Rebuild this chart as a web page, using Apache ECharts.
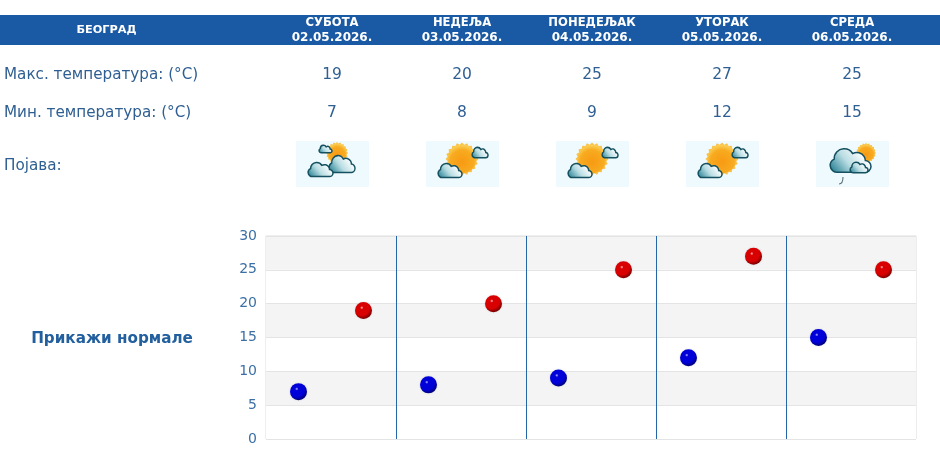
<!DOCTYPE html>
<html>
<head>
<meta charset="utf-8">
<title>Београд</title>
<script src="https://cdn.jsdelivr.net/npm/echarts@6/dist/echarts.min.js"></script>
<style>
  html, body { margin: 0; padding: 0; background: #fff; }
  #chart { width: 940px; height: 459px; }
</style>
</head>
<body>
<div id="chart"></div>
<script>
const city = 'БЕОГРАД';
const dayNames = ['СУБОТА', 'НЕДЕЉА', 'ПОНЕДЕЉАК', 'УТОРАК', 'СРЕДА'];
const dates = ['02.05.2026.', '03.05.2026.', '04.05.2026.', '05.05.2026.', '06.05.2026.'];
const maxTemps = [19, 20, 25, 27, 25];
const minTemps = [7, 8, 9, 12, 15];
const weather = ['cloudy', 'sunny', 'sunny', 'sunny', 'showers'];

const textBlue = '#2f5f92';
const headerBlue = '#1a59a3';
const colX = [332, 462, 592, 722, 852];

// облак за иконе, 58 x 36
echarts.graphic.registerShape('cloud', echarts.graphic.extendPath(
  'M11 35 A10 10 0 0 1 6 16 A14 14 0 0 1 32 8 A12 12 0 0 1 50 18 A8.5 8.5 0 0 1 49 35 Z'
));

function ball(light, mid, dark) {
  return {
    type: 'radial', x: 0.4, y: 0.34, r: 0.72,
    colorStops: [
      { offset: 0, color: light },
      { offset: 0.14, color: mid },
      { offset: 0.62, color: mid },
      { offset: 1, color: dark }
    ]
  };
}

function cloud(x, y, w, h, z) {
  return {
    type: 'cloud', x: x, y: y, scaleX: w / 58, scaleY: h / 36, z: z,
    style: {
      lineWidth: 1.5,
      strokeNoScale: true,
      stroke: '#14505f',
      fill: {
        type: 'linear', x: 0, y: 1, x2: 0.7, y2: 0.05,
        colorStops: [
          { offset: 0, color: '#0f7186' },
          { offset: 0.55, color: '#b9dde3' },
          { offset: 1, color: '#ffffff' }
        ]
      }
    }
  };
}

function sun(cx, cy, r, z) {
  const rays = [];
  for (let i = 0; i < 40; i++) {
    const a = i * Math.PI / 20;
    const rr = i % 2 ? r * 0.88 : r;
    rays.push([cx + rr * Math.cos(a), cy + rr * Math.sin(a)]);
  }
  return [
    {
      type: 'polygon', z: z,
      shape: { points: rays },
      style: { fill: '#f8c24a' }
    },
    {
      type: 'circle', z: z,
      shape: { cx: cx, cy: cy, r: r * 0.86 },
      style: {
        fill: {
          type: 'radial', x: 0.5, y: 0.6, r: 0.6,
          colorStops: [
            { offset: 0, color: '#f79a12' },
            { offset: 0.7, color: '#f8ab20' },
            { offset: 1, color: '#fbd25a' }
          ]
        }
      }
    }
  ];
}

function weatherIcon(kind, cx) {
  const x = cx - 36;
  const items = [{
    type: 'rect', z: 5,
    shape: { x: x, y: 141, width: 73, height: 46 },
    style: { fill: '#eefafd' }
  }];
  if (kind === 'cloudy') {
    items.push(...sun(x + 41, 153, 11, 6));
    items.push(cloud(x + 23, 145, 13, 8, 7));
    items.push(cloud(x + 33, 155, 26, 18, 8));
    items.push(cloud(x + 12, 162, 25, 15, 9));
  } else if (kind === 'sunny') {
    items.push(...sun(x + 36, 159, 16.5, 6));
    items.push(cloud(x + 46, 147, 16, 11, 7));
    items.push(cloud(x + 12, 163, 24, 15, 8));
  } else {
    items.push(...sun(x + 50, 153, 10, 6));
    items.push(cloud(x + 14, 148, 41, 25, 7));
    items.push(cloud(x + 34, 162, 18, 11, 8));
    items.push({
      type: 'bezierCurve', z: 7,
      shape: { x1: x + 27, y1: 177, cpx1: x + 27, cpy1: 181, cpx2: x + 26, cpy2: 184, x2: x + 23, y2: 184 },
      style: { stroke: '#5a7078', lineWidth: 1.1, fill: 'none' }
    });
  }
  return items;
}

function label(text, x, y, size, color, align, weight) {
  return {
    type: 'text', x: x, y: y, z: 10,
    style: {
      text: text, fill: color, align: align, verticalAlign: 'middle',
      font: (weight || 'normal') + ' ' + size + 'px "DejaVu Sans", sans-serif'
    }
  };
}

const tableItems = [
  { type: 'rect', z: 1, shape: { x: 0, y: 15, width: 940, height: 30 }, style: { fill: headerBlue } },
  label(city, 106.5, 30, 11.3, '#ffffff', 'center', 'bold'),
  label('Макс. температура: (°C)', 4, 75.5, 15.2, textBlue, 'left'),
  label('Мин. температура: (°C)', 4, 113.5, 15.2, textBlue, 'left'),
  label('Појава:', 4, 166, 15.2, textBlue, 'left'),
  label('Прикажи нормале', 112, 339.5, 15.2, '#225f9e', 'center', 'bold')
];
colX.forEach((x, i) => {
  tableItems.push(label(dayNames[i], x, 23, 11.6, '#ffffff', 'center', 'bold'));
  tableItems.push(label(dates[i], x, 38, 12, '#ffffff', 'center', 'bold'));
  tableItems.push(label(String(maxTemps[i]), x, 74.5, 15.5, textBlue, 'center'));
  tableItems.push(label(String(minTemps[i]), x, 112.5, 15.5, textBlue, 'center'));
  tableItems.push(...weatherIcon(weather[i], x));
});

const chart = echarts.init(document.getElementById('chart'), null, { renderer: 'canvas' });
chart.setOption({
  animation: false,
  backgroundColor: '#ffffff',
  graphic: { elements: tableItems },
  grid: {
    left: 266, right: 24, top: 236, bottom: 20,
    show: true, borderColor: '#dcdcdc', borderWidth: 1
  },
  // х оса броји дане: минимум у првој, максимум у другој половини дана
  xAxis: {
    type: 'value',
    min: 0,
    max: dates.length,
    interval: 1,
    axisLine: { show: false },
    axisTick: { show: false },
    axisLabel: { show: false },
    splitLine: {
      show: true,
      showMinLine: false,
      showMaxLine: false,
      lineStyle: { color: '#2566a8', width: 1 }
    }
  },
  yAxis: {
    type: 'value',
    min: 0,
    max: 30,
    interval: 5,
    axisLine: { show: false },
    axisTick: { show: false },
    axisLabel: { color: '#3c6fa5', fontSize: 14, fontFamily: 'DejaVu Sans', margin: 9, padding: [3, 0, 0, 0] },
    splitLine: { show: true, lineStyle: { color: '#e4e4e4', width: 1 } },
    splitArea: { show: true, areaStyle: { color: ['#ffffff', '#f4f4f4'] } }
  },
  series: [
    {
      name: 'min',
      type: 'scatter',
      symbol: 'circle',
      symbolSize: 17,
      z: 4,
      itemStyle: {
        opacity: 1,
        color: ball('#b8b8ff', '#0000d8', '#000060'),
        shadowBlur: 2,
        shadowColor: 'rgba(0,0,0,0.15)'
      },
      data: minTemps.map((v, i) => [i + 0.25, v])
    },
    {
      name: 'max',
      type: 'scatter',
      symbol: 'circle',
      symbolSize: 17,
      z: 4,
      itemStyle: {
        opacity: 1,
        color: ball('#ffc0c0', '#d80000', '#600000'),
        shadowBlur: 2,
        shadowColor: 'rgba(0,0,0,0.15)'
      },
      data: maxTemps.map((v, i) => [i + 0.75, v])
    }
  ]
});
</script>
</body>
</html>
